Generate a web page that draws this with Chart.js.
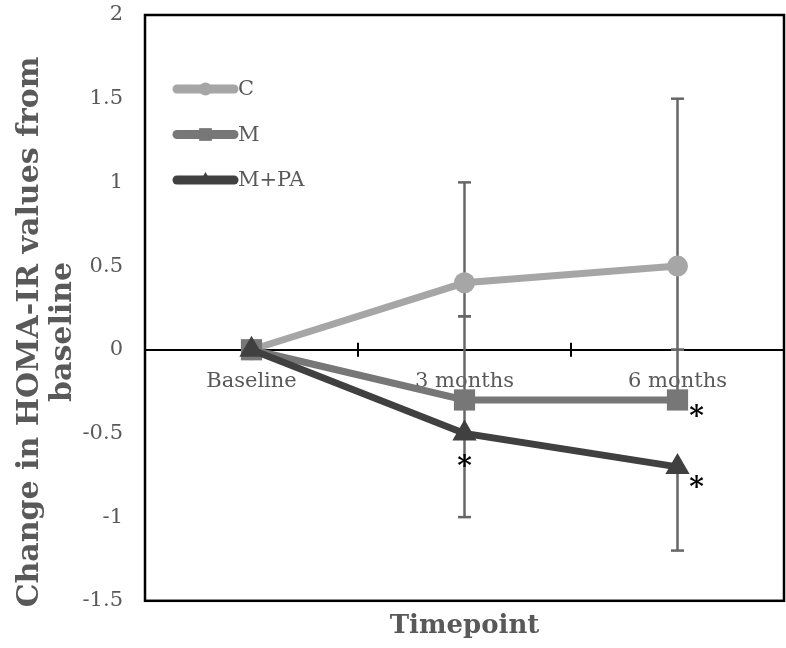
<!DOCTYPE html>
<html><head><meta charset="utf-8">
<script src="https://cdn.jsdelivr.net/npm/chart.js@4/dist/chart.umd.min.js"></script>
<style>html,body{margin:0;padding:0;background:#fff}#wrap{width:786px;height:648px}</style>
</head><body><div id="wrap"><canvas id="c" width="786" height="648"></canvas></div>
<script>
// ---- data ----
const categories = ['Baseline', '3 months', '6 months'];
const seriesNames = ['C', 'M', 'M+PA'];
const valuesC = [0, 0.4, 0.5];
const valuesM = [0, -0.3, -0.3];
const valuesMPA = [0, -0.5, -0.7];
// error bar ends (value at each end; null = no bar)
const errLowC = [null, 0.2, 0.0];
const errHighC = [null, 1.0, 1.5];
const errLowM = [null, -0.5, null];
const errHighM = [null, 0.2, 0.0];
const errLowMPA = [null, -1.0, -1.2];
const errHighMPA = [null, null, null];
const yTicks = [-1.5, -1, -0.5, 0, 0.5, 1, 1.5, 2];
const yTitle = ['Change in HOMA-IR values from', 'baseline'];
const xTitle = 'Timepoint';
// significance asterisks: [series index, category index]
const sigSeries = [2, 1, 2];
const sigIndex = [1, 2, 2];

// ---- styles ----
const colors = ['#a6a6a6', '#777777', '#404040'];
const pointStyles = ['circle', 'rect', 'triangle'];
const pointRadii = [10.5, 15, 14];
const legendRadii = [6.5, 9, 8];
const textColor = '#595959';
const errColor = '#666666';
const serif = 'DejaVu Serif';
const sigOffsets = [{dx: 0, dy: 27}, {dx: 19, dy: 10}, {dx: 19, dy: 14}];

const allValues = [valuesC, valuesM, valuesMPA];
const errLow = [errLowC, errLowM, errLowMPA];
const errHigh = [errHighC, errHighM, errHighMPA];

const decor = {
  id: 'decor',
  beforeDatasetsDraw(chart) {
    const {ctx, scales: {x, y}} = chart;
    const y0 = y.getPixelForValue(0);
    ctx.save();
    ctx.strokeStyle = '#000'; ctx.lineWidth = 2;
    for (let i = 1; i < categories.length; i++) {
      const px = x.getPixelForValue(i - 0.5);
      ctx.beginPath(); ctx.moveTo(px, y0 - 7); ctx.lineTo(px, y0 + 7); ctx.stroke();
    }
    ctx.strokeStyle = errColor; ctx.lineWidth = 2.5;
    for (let s = 0; s < allValues.length; s++) {
      for (let i = 0; i < categories.length; i++) {
        const px = x.getPixelForValue(i);
        const pv = y.getPixelForValue(allValues[s][i]);
        [errLow[s][i], errHigh[s][i]].forEach(v => {
          if (v === null || v === undefined) return;
          const pe = y.getPixelForValue(v);
          ctx.beginPath(); ctx.moveTo(px, pv); ctx.lineTo(px, pe); ctx.stroke();
          ctx.beginPath(); ctx.moveTo(px - 6.5, pe); ctx.lineTo(px + 6.5, pe); ctx.stroke();
        });
      }
    }
    ctx.restore();
  },
  afterDatasetsDraw(chart) {
    const {ctx, scales: {x, y}} = chart;
    ctx.save();
    ctx.fillStyle = '#000';
    ctx.font = 'bold 28px "' + serif + '"';
    ctx.textAlign = 'center';
    ctx.textBaseline = 'alphabetic';
    for (let k = 0; k < sigSeries.length; k++) {
      const px = x.getPixelForValue(sigIndex[k]);
      const py = y.getPixelForValue(allValues[sigSeries[k]][sigIndex[k]]);
      ctx.fillText('*', px + sigOffsets[k].dx, py + sigOffsets[k].dy + 15);
    }
    ctx.restore();
  },
  afterDraw(chart) {
    const {ctx, chartArea: a} = chart;
    ctx.save();
    ctx.strokeStyle = '#000'; ctx.lineWidth = 2.5;
    ctx.strokeRect(a.left, a.top, a.width, a.height);
    for (let s = 0; s < seriesNames.length; s++) {
      const ly = a.top + 74 + s * 45.5;
      const x1 = a.left + 32, x2 = a.left + 89;
      ctx.strokeStyle = colors[s]; ctx.lineWidth = 9; ctx.lineCap = 'round';
      ctx.beginPath(); ctx.moveTo(x1, ly); ctx.lineTo(x2, ly); ctx.stroke();
      ctx.fillStyle = colors[s];
      Chart.helpers.drawPoint(ctx, {pointStyle: pointStyles[s], radius: legendRadii[s], rotation: 0, borderWidth: 0}, (x1 + x2) / 2, ly);
      ctx.fillStyle = textColor;
      ctx.font = '21px "' + serif + '"';
      ctx.textAlign = 'left'; ctx.textBaseline = 'middle';
      ctx.fillText(seriesNames[s], a.left + 93, ly + 1);
    }
    ctx.fillStyle = textColor;
    ctx.font = 'bold 30px "' + serif + '"';
    ctx.textAlign = 'center'; ctx.textBaseline = 'middle';
    const yc = (a.top + a.bottom) / 2 + 24;
    yTitle.forEach((t, i) => {
      ctx.save();
      ctx.translate(30 + i * 33, yc);
      ctx.rotate(-Math.PI / 2);
      ctx.fillText(t, 0, 0);
      ctx.restore();
    });
    ctx.restore();
  }
};

const datasets = seriesNames.map((name, s) => ({
  label: name,
  data: allValues[s],
  borderColor: colors[s],
  backgroundColor: colors[s],
  borderWidth: 7,
  pointStyle: pointStyles[s],
  pointRadius: pointRadii[s],
  pointHoverRadius: pointRadii[s],
  pointBorderWidth: 0,
  pointBackgroundColor: colors[s],
  tension: 0,
  clip: false,
  order: 2 - s
}));

new Chart(document.getElementById('c'), {
  type: 'line',
  data: {labels: categories, datasets},
  options: {
    responsive: false,
    animation: false,
    devicePixelRatio: 1,
    layout: {autoPadding: false, padding: {top: 15, right: 2, left: 0, bottom: 0}},
    plugins: {
      legend: {display: false},
      tooltip: {enabled: false},
      title: {
        display: true, text: xTitle, position: 'bottom', fullSize: false,
        color: textColor, font: {family: serif, size: 26, weight: 'bold', lineHeight: 1.2},
        padding: {top: 10, bottom: 6}
      }
    },
    scales: {
      x: {
        type: 'category',
        position: {y: 0},
        offset: true,
        afterFit: s => { s.paddingLeft = 0; s.paddingRight = 0; s.paddingTop = 0; s.paddingBottom = 0; },
        grid: {display: false, drawTicks: false},
        border: {display: true, color: '#000', width: 2},
        ticks: {color: textColor, font: {family: serif, size: 21}, padding: 19, maxRotation: 0, autoSkip: false}
      },
      y: {
        min: -1.5, max: 2,
        afterBuildTicks: s => { s.ticks = yTicks.map(v => ({value: v})); },
        afterFit: s => { s.width = 145; s.paddingTop = 0; s.paddingBottom = 0; s.paddingLeft = 0; s.paddingRight = 0; },
        grid: {display: false, drawTicks: false},
        border: {display: false},
        ticks: {color: textColor, font: {family: serif, size: 21}, padding: 22, callback: v => String(v)}
      }
    }
  },
  plugins: [decor]
});
</script></body></html>
